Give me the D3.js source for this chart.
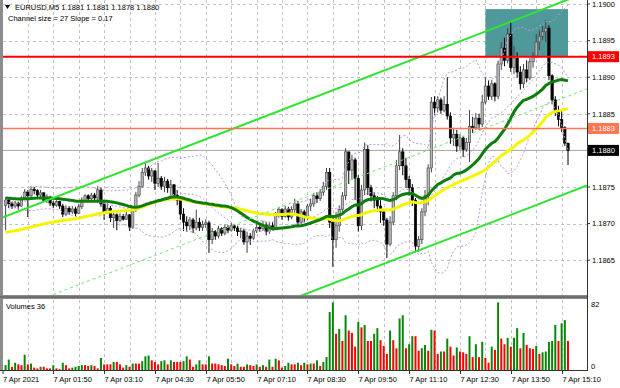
<!DOCTYPE html>
<html>
<head>
<meta charset="utf-8">
<script src="https://cdn.jsdelivr.net/npm/d3@7"></script>
<style>
body { margin: 0; background: #fff; }
svg { display: block; }
text { font-family: "Liberation Sans", Arial, sans-serif; font-size: 7.5px; fill: #000; }
</style>
</head>
<body>
<svg id="chart" width="620" height="388"></svg>
<script>
// EURUSD M5, 7 Apr 2021, 178 bars
var symbol = "EURUSD,M5";
var firstBar = new Date(2021, 3, 7, 0, 35);
var firstOpen = 1.18725;

var closes = [
  1.18732, 1.18727, 1.18724, 1.18728, 1.18724, 1.18735, 1.18743, 1.18738, 1.18747, 1.18745,
  1.18739, 1.18742, 1.18732, 1.18736, 1.18728, 1.18725, 1.18730, 1.18724, 1.18713, 1.18721,
  1.18716, 1.18720, 1.18714, 1.18723, 1.18732, 1.18738, 1.18734, 1.18739, 1.18735, 1.18746,
  1.18727, 1.18716, 1.18721, 1.18708, 1.18712, 1.18704, 1.18710, 1.18706, 1.18712, 1.18695,
  1.18719, 1.18739, 1.18751, 1.18770, 1.18776, 1.18765, 1.18772, 1.18755, 1.18762, 1.18751,
  1.18758, 1.18749, 1.18753, 1.18739, 1.18732, 1.18713, 1.18702, 1.18697, 1.18705, 1.18694,
  1.18702, 1.18695, 1.18699, 1.18701, 1.18678, 1.18689, 1.18683, 1.18693, 1.18687, 1.18695,
  1.18691, 1.18697, 1.18694, 1.18689, 1.18690, 1.18675, 1.18683, 1.18680, 1.18690, 1.18695,
  1.18693, 1.18698, 1.18689, 1.18697, 1.18695, 1.18712, 1.18719, 1.18710, 1.18720, 1.18709,
  1.18719, 1.18727, 1.18702, 1.18716, 1.18708, 1.18724, 1.18727, 1.18738, 1.18734, 1.18743,
  1.18751, 1.18770, 1.18702, 1.18678, 1.18697, 1.18719, 1.18738, 1.18798, 1.18773, 1.18787,
  1.18762, 1.18697, 1.18746, 1.18801, 1.18749, 1.18738, 1.18732, 1.18724, 1.18716, 1.18705,
  1.18672, 1.18702, 1.18738, 1.18779, 1.18798, 1.18779, 1.18760, 1.18749, 1.18732, 1.18669,
  1.18678, 1.18716, 1.18738, 1.18776, 1.18866, 1.18858, 1.18869, 1.18855, 1.18863, 1.18847,
  1.18817, 1.18822, 1.18806, 1.18817, 1.18801, 1.18811, 1.18833, 1.18831, 1.18844, 1.18836,
  1.18866, 1.18888, 1.18874, 1.18891, 1.18874, 1.18918, 1.18940, 1.18923, 1.18959, 1.18913,
  1.18926, 1.18907, 1.18891, 1.18910, 1.18899, 1.18921, 1.18929, 1.18948, 1.18956, 1.18962,
  1.18967, 1.18902, 1.18869, 1.18852, 1.18842, 1.18831, 1.18810, 1.18800
];

var highs = [
  1.18736, 1.18734, 1.18730, 1.18731, 1.18730, 1.18738, 1.18747, 1.18746, 1.18751, 1.18750,
  1.18747, 1.18746, 1.18743, 1.18740, 1.18738, 1.18731, 1.18732, 1.18731, 1.18727, 1.18725,
  1.18724, 1.18724, 1.18723, 1.18727, 1.18736, 1.18740, 1.18740, 1.18742, 1.18742, 1.18751,
  1.18749, 1.18731, 1.18728, 1.18724, 1.18717, 1.18714, 1.18714, 1.18713, 1.18716, 1.18713,
  1.18721, 1.18743, 1.18758, 1.18776, 1.18783, 1.18779, 1.18776, 1.18773, 1.18783, 1.18765,
  1.18764, 1.18761, 1.18760, 1.18754, 1.18746, 1.18735, 1.18721, 1.18710, 1.18709, 1.18708,
  1.18719, 1.18708, 1.18704, 1.18706, 1.18704, 1.18694, 1.18691, 1.18697, 1.18695, 1.18699,
  1.18698, 1.18701, 1.18699, 1.18697, 1.18694, 1.18693, 1.18689, 1.18687, 1.18693, 1.18699,
  1.18701, 1.18704, 1.18702, 1.18702, 1.18702, 1.18716, 1.18723, 1.18721, 1.18724, 1.18723,
  1.18724, 1.18734, 1.18731, 1.18720, 1.18719, 1.18727, 1.18734, 1.18742, 1.18743, 1.18747,
  1.18757, 1.18776, 1.18776, 1.18708, 1.18716, 1.18725, 1.18743, 1.18803, 1.18798, 1.18794,
  1.18790, 1.18766, 1.18753, 1.18811, 1.18807, 1.18753, 1.18743, 1.18738, 1.18732, 1.18719,
  1.18708, 1.18710, 1.18743, 1.18787, 1.18821, 1.18803, 1.18790, 1.18765, 1.18754, 1.18735,
  1.18683, 1.18721, 1.18746, 1.18781, 1.18873, 1.18874, 1.18874, 1.18872, 1.18874, 1.18900,
  1.18852, 1.18831, 1.18828, 1.18822, 1.18820, 1.18817, 1.18855, 1.18846, 1.18851, 1.18850,
  1.18876, 1.18900, 1.18896, 1.18896, 1.18893, 1.18923, 1.18948, 1.18954, 1.18967, 1.18975,
  1.18943, 1.18934, 1.18915, 1.18918, 1.18923, 1.18926, 1.18934, 1.18959, 1.18964, 1.18970,
  1.18978, 1.18971, 1.18904, 1.18874, 1.18861, 1.18855, 1.18833, 1.18810
];

var lows = [
  1.18691, 1.18721, 1.18720, 1.18721, 1.18719, 1.18723, 1.18732, 1.18709, 1.18736, 1.18740,
  1.18735, 1.18734, 1.18730, 1.18728, 1.18724, 1.18721, 1.18723, 1.18720, 1.18709, 1.18710,
  1.18712, 1.18713, 1.18710, 1.18713, 1.18720, 1.18730, 1.18730, 1.18731, 1.18731, 1.18728,
  1.18723, 1.18705, 1.18713, 1.18702, 1.18694, 1.18691, 1.18702, 1.18704, 1.18705, 1.18690,
  1.18693, 1.18716, 1.18736, 1.18749, 1.18765, 1.18760, 1.18757, 1.18746, 1.18750, 1.18746,
  1.18743, 1.18742, 1.18738, 1.18732, 1.18725, 1.18705, 1.18690, 1.18689, 1.18691, 1.18687,
  1.18691, 1.18690, 1.18690, 1.18694, 1.18660, 1.18672, 1.18678, 1.18680, 1.18683, 1.18684,
  1.18687, 1.18689, 1.18690, 1.18683, 1.18680, 1.18671, 1.18660, 1.18671, 1.18678, 1.18687,
  1.18689, 1.18690, 1.18684, 1.18686, 1.18691, 1.18693, 1.18708, 1.18705, 1.18708, 1.18704,
  1.18706, 1.18713, 1.18697, 1.18699, 1.18702, 1.18705, 1.18717, 1.18723, 1.18728, 1.18731,
  1.18738, 1.18746, 1.18694, 1.18641, 1.18667, 1.18689, 1.18713, 1.18732, 1.18754, 1.18760,
  1.18732, 1.18689, 1.18691, 1.18739, 1.18739, 1.18730, 1.18721, 1.18716, 1.18701, 1.18697,
  1.18653, 1.18669, 1.18698, 1.18732, 1.18773, 1.18766, 1.18749, 1.18738, 1.18724, 1.18661,
  1.18661, 1.18672, 1.18710, 1.18725, 1.18770, 1.18848, 1.18852, 1.18850, 1.18852, 1.18842,
  1.18809, 1.18806, 1.18798, 1.18801, 1.18791, 1.18798, 1.18784, 1.18824, 1.18828, 1.18828,
  1.18832, 1.18863, 1.18869, 1.18869, 1.18867, 1.18870, 1.18910, 1.18915, 1.18919, 1.18907,
  1.18904, 1.18899, 1.18883, 1.18885, 1.18893, 1.18896, 1.18913, 1.18926, 1.18937, 1.18951,
  1.18948, 1.18896, 1.18863, 1.18847, 1.18833, 1.18825, 1.18806, 1.18780
];

var volumes = [
  6, 13, 4, 9, 7, 6, 19, 7, 8, 3,
  2, 4, 4, 2, 2, 6, 2, 1, 9, 6,
  2, 3, 4, 5, 6, 6, 5, 6, 5, 2,
  15, 7, 7, 7, 10, 10, 7, 3, 6, 4,
  8, 8, 8, 11, 17, 18, 12, 10, 7, 11,
  12, 7, 12, 10, 10, 10, 11, 17, 13, 4,
  7, 12, 7, 7, 17, 8, 8, 7, 6, 5,
  14, 7, 5, 8, 4, 4, 7, 6, 5, 7,
  4, 6, 4, 13, 4, 14, 12, 3, 5, 9,
  7, 7, 9, 6, 9, 7, 8, 8, 12, 5,
  10, 16, 72, 84, 45, 51, 36, 68, 49, 46,
  29, 60, 53, 56, 36, 36, 45, 52, 37, 30,
  20, 49, 37, 27, 64, 68, 27, 32, 42, 42,
  24, 27, 31, 24, 50, 49, 20, 23, 23, 39,
  29, 18, 28, 23, 22, 20, 42, 16, 32, 16,
  35, 15, 9, 29, 25, 84, 39, 32, 40, 29,
  40, 52, 27, 46, 31, 27, 26, 30, 20, 22,
  23, 35, 36, 56, 36, 58, 62, 36
];

var priceTicks = [1.1865, 1.1870, 1.1875, 1.1880, 1.1885, 1.1890, 1.1895, 1.1900];
var volumeTicks = [0, 82];
var timeLabels = ["7 Apr 2021", "7 Apr 01:50", "7 Apr 03:10", "7 Apr 04:30", "7 Apr 05:50", "7 Apr 07:10",
                  "7 Apr 08:30", "7 Apr 09:50", "7 Apr 11:10", "7 Apr 12:30", "7 Apr 13:50", "7 Apr 15:10"];

var levels = [1.18928, 1.18830];           // red resistance, orange level
var zonePrices = [1.18928, 1.18993];
var zoneBars = [151, 177];
var channelBars = [0, 177];
var channelUpper = [1.18710, 1.19006];
var channelWidth = 0.00264;
var channelStats = [27, 0.17];
var maStart = [1.18735, 1.18687];          // level of the 30 and 50 averages at the left edge

var svg = d3.select("#chart");
var n = closes.length;
var opens = closes.map((c, i) => i === 0 ? firstOpen : closes[i - 1]);

var x = d3.scaleLinear().domain([0, n - 1]).range([5.6, 568]);
var y = d3.scaleLinear().domain([1.1860, 1.1900]).range([296.8, 4]);
var yv = d3.scaleLinear().domain([0, 82]).range([370, 304]);

svg.append("rect").attr("width", 620).attr("height", 388).attr("fill", "#fff");

svg.append("defs").append("clipPath").attr("id", "plotclip")
  .append("rect").attr("x", 3).attr("y", 0).attr("width", 584).attr("height", 295);

var times = closes.map((c, i) => new Date(firstBar.getTime() + i * 300000));
var hm = d3.timeFormat("%H:%M");
var labelBars = timeLabels.map((t, k) => k === 0 ? 0 : times.findIndex(d => "7 Apr " + hm(d) === t));

//////////////// grid ////////////////
var grid = svg.append("g").attr("stroke", "#c2c2c2").attr("stroke-dasharray", "3,3");
d3.range(n).filter(i => i % 8 === 7).forEach(i => {
  grid.append("line").attr("x1", Math.round(x(i)) + 0.5).attr("x2", Math.round(x(i)) + 0.5)
    .attr("y1", 0).attr("y2", 295);
  grid.append("line").attr("x1", Math.round(x(i)) + 0.5).attr("x2", Math.round(x(i)) + 0.5)
    .attr("y1", 300).attr("y2", 370);
});
priceTicks.forEach(p => {
  grid.append("line").attr("x1", 3).attr("x2", 587)
    .attr("y1", Math.round(y(p)) + 0.5).attr("y2", Math.round(y(p)) + 0.5);
});

//////////////// zone ////////////////
svg.append("rect")
  .attr("x", x(zoneBars[0])).attr("width", x(zoneBars[1]) - x(zoneBars[0]))
  .attr("y", y(zonePrices[1])).attr("height", y(zonePrices[0]) - y(zonePrices[1]))
  .attr("fill", "#4f999b");

// bid line
svg.append("line").attr("x1", 3).attr("x2", 587)
  .attr("y1", y(closes[n - 1])).attr("y2", y(closes[n - 1]))
  .attr("stroke", "#a8a8a8").attr("stroke-width", 1);

//////////////// candles ////////////////
var candles = svg.append("g");
closes.forEach((c, i) => {
  var o = opens[i], up = c >= o;
  var hi = Math.max(highs[i], o, c), lo = Math.min(lows[i], o, c);
  var cx = x(i);
  candles.append("line").attr("x1", cx).attr("x2", cx)
    .attr("y1", y(hi)).attr("y2", y(lo))
    .attr("stroke", up ? "#444" : "#000").attr("stroke-width", 1);
  var top = y(Math.max(o, c)), bot = y(Math.min(o, c));
  candles.append("rect")
    .attr("x", cx - 1.2).attr("width", 2.4)
    .attr("y", top).attr("height", Math.max(bot - top, 0.8))
    .attr("fill", up ? "#b4b4b4" : "#000")
    .attr("stroke", up ? "#444" : "#000").attr("stroke-width", 0.6);
});

//////////////// indicators ////////////////
// simple average; bars before the first visible one are taken at the starting level
function sma(values, period, seed) {
  return values.map((v, i) => {
    var s = 0;
    for (var j = i - period + 1; j <= i; j++) s += j < 0 ? seed : values[j];
    return s / period;
  });
}
var ma30 = sma(closes, 30, maStart[0]);
var ma50 = sma(closes, 50, maStart[1]);

var bands = closes.map((c, i) => {
  var w = closes.slice(Math.max(0, i - 19), i + 1);
  var m = d3.mean(w), sd = Math.sqrt(d3.mean(w, v => (v - m) * (v - m)));
  return {mid: m, up: m + 2 * sd, lo: m - 2 * sd};
});

var ind = svg.append("g").attr("clip-path", "url(#plotclip)");
var lineOf = key => d3.line().x((d, i) => x(i)).y(d => y(key ? d[key] : d));

["up", "mid", "lo"].forEach(k => {
  ind.append("path").datum(bands).attr("d", lineOf(k))
    .attr("fill", "none").attr("stroke", "#c296e2").attr("stroke-width", 1)
    .attr("stroke-dasharray", "2,2");
});
ind.append("path").datum(ma50).attr("d", lineOf(null))
  .attr("fill", "none").attr("stroke", "#f5f500").attr("stroke-width", 3);
ind.append("path").datum(ma30).attr("d", lineOf(null))
  .attr("fill", "none").attr("stroke", "#0e7d0e").attr("stroke-width", 3);

//////////////// channel ////////////////
var slope = (channelUpper[1] - channelUpper[0]) / (channelBars[1] - channelBars[0]);
function chanPrice(b, off) { return channelUpper[0] + (b - channelBars[0]) * slope - off; }
var b0 = x.invert(3), b1 = x.invert(587);
[[0, "#30e430", 2, null], [channelWidth / 2, "#6ee86e", 1, "3,3"], [channelWidth, "#30e430", 2, null]]
  .forEach(c => {
    ind.append("line")
      .attr("x1", x(b0)).attr("y1", y(chanPrice(b0, c[0])))
      .attr("x2", x(b1)).attr("y2", y(chanPrice(b1, c[0])))
      .attr("stroke", c[1]).attr("stroke-width", c[2])
      .attr("stroke-dasharray", c[3]);
  });

//////////////// levels ////////////////
var levelColors = ["#ff0000", "#ff7650"];
levels.forEach((p, k) => {
  svg.append("line").attr("x1", 3).attr("x2", 587)
    .attr("y1", y(p)).attr("y2", y(p))
    .attr("stroke", levelColors[k]).attr("stroke-width", k === 0 ? 2 : 1.5);
});

//////////////// frame ////////////////
svg.append("rect").attr("x", 0).attr("y", 0).attr("width", 3).attr("height", 371).attr("fill", "#8d8d8d");
svg.append("rect").attr("x", 0).attr("y", 295).attr("width", 588).attr("height", 4).attr("fill", "#8a8a8a");
svg.append("line").attr("x1", 0).attr("x2", 588).attr("y1", 297).attr("y2", 297).attr("stroke", "#555");
svg.append("line").attr("x1", 587.5).attr("x2", 587.5).attr("y1", 0).attr("y2", 371).attr("stroke", "#333");
svg.append("line").attr("x1", 0).attr("x2", 588).attr("y1", 370.5).attr("y2", 370.5).attr("stroke", "#333");

//////////////// price axis ////////////////
priceTicks.forEach(p => {
  svg.append("line").attr("x1", 587).attr("x2", 590).attr("y1", y(p)).attr("y2", y(p)).attr("stroke", "#333");
  svg.append("text").attr("x", 592).attr("y", y(p) + 2.7).text(p.toFixed(4));
});
function priceBox(p, fill) {
  svg.append("rect").attr("x", 588).attr("y", y(p) - 5.5).attr("width", 31).attr("height", 11).attr("fill", fill);
  svg.append("text").attr("x", 592).attr("y", y(p) + 2.7).style("fill", "#fff").text(p.toFixed(4));
}
levels.forEach((p, k) => priceBox(p, levelColors[k]));
priceBox(closes[n - 1], "#000");

//////////////// volumes ////////////////
var vg = svg.append("g");
volumes.forEach((v, i) => {
  var rising = i === 0 || v > volumes[i - 1];
  vg.append("rect").attr("x", x(i) - 1).attr("width", 2)
    .attr("y", yv(v)).attr("height", yv(0) - yv(v))
    .attr("fill", rising ? "#0a870a" : "#ff0000");
});
volumeTicks.forEach(v => {
  svg.append("text").attr("x", 591).attr("y", Math.min(yv(v), 366) + 2.7).text(v);
});
svg.append("text").attr("x", 6).attr("y", 308.5).text("Volumes " + volumes[n - 1]);

//////////////// time axis ////////////////
labelBars.forEach((b, k) => {
  var lx = k === 0 ? 3 : Math.round(x(b)) + 0.5;
  svg.append("line").attr("x1", lx).attr("x2", lx).attr("y1", 371).attr("y2", 374).attr("stroke", "#333");
  svg.append("text").attr("x", lx).attr("y", 382).text(timeLabels[k]);
});

//////////////// header ////////////////
svg.append("path").attr("d", "M5,5 L10,5 L7.5,9 Z").attr("fill", "#000");
var last = n - 1;
svg.append("text").attr("x", 15).attr("y", 10)
  .text(symbol + "  " + [opens[last], highs[last], lows[last], closes[last]].map(v => v.toFixed(4)).join(" "));
svg.append("text").attr("x", 8).attr("y", 21)
  .text("Channel size = " + channelStats[0] + " Slope = " + channelStats[1]);
</script>
</body>
</html>
